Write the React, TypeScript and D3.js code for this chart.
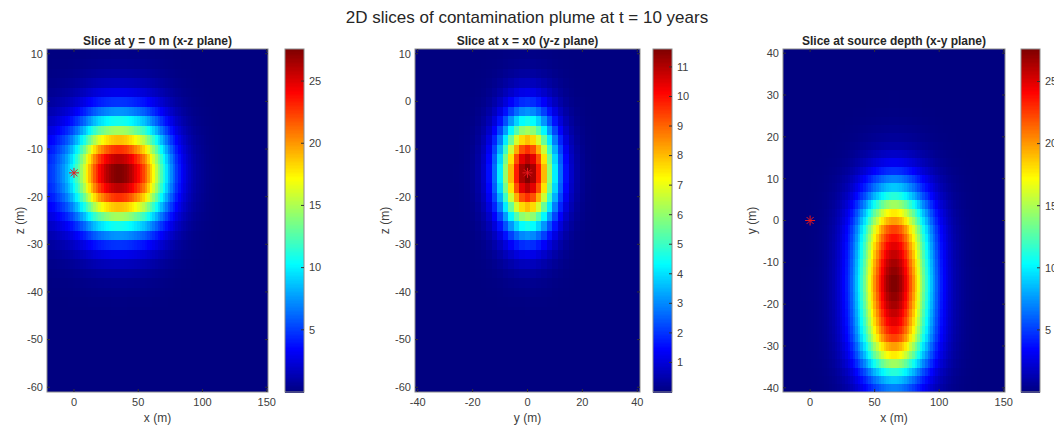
import * as d3 from "d3";

const W = 1054;
const H = 427;
const FONT = "'Liberation Sans', Arial, Helvetica, sans-serif";

// grid coordinates (m)
const xGrid = d3.range(-20, 151, 2); // 86 columns
const yGrid = d3.range(-40, 41, 2); // 41
const zGrid = d3.range(-60, 11, 2); // 36

// x-z slice (y = 0): profile along x, x = -20 ... 150
const xzAlongX = [
  0.17, 0.18, 0.19, 0.21, 0.23, 0.25, 0.27, 0.3, 0.33, 0.36,
  0.4, 0.44, 0.48, 0.53, 0.58, 0.64, 0.69, 0.74, 0.79, 0.83,
  0.87, 0.9, 0.93, 0.95, 0.97, 0.985, 0.995, 1.0,
  1.0, 0.995, 0.985, 0.97, 0.95, 0.93, 0.9, 0.87, 0.84, 0.81,
  0.77, 0.72, 0.67, 0.62, 0.56, 0.5, 0.45, 0.4, 0.35, 0.3,
  0.26, 0.22, 0.18, 0.15, 0.12, 0.1, 0.08, 0.065, 0.05, 0.04,
  0.03, 0.025, 0.02, 0.015, 0.011, 0.008, 0.006, 0.004, 0.003, 0.002,
  0.001, 0, 0, 0, 0, 0, 0, 0, 0, 0,
  0, 0, 0, 0, 0, 0, 0, 0,
];

// depth profile through the source, z = -60 ... 10
const alongZ = [
  0, 0, 0, 0, 0, 0, 0, 0, 0.001, 0.003,
  0.008, 0.016, 0.032, 0.06, 0.105, 0.172, 0.267, 0.389, 0.531, 0.682,
  0.823, 0.932, 0.992, 0.992, 0.932, 0.823, 0.682, 0.531, 0.389, 0.267,
  0.172, 0.105, 0.06, 0.032, 0.016, 0.008,
];

// y-z slice (x = x0): profile along y, y = -40 ... 40
const yzAlongY = [
  0, 0, 0, 0, 0, 0, 0, 0.001, 0.003, 0.007,
  0.017, 0.037, 0.073, 0.135, 0.23, 0.36, 0.52, 0.693, 0.849, 0.96,
  1.0,
  0.96, 0.849, 0.693, 0.52, 0.36, 0.23, 0.135, 0.073, 0.037, 0.017,
  0.007, 0.003, 0.001, 0, 0, 0, 0, 0, 0, 0,
];

// x-y slice (source depth): profile along x, x = -20 ... 150
const xyAlongX = [
  0, 0, 0, 0, 0, 0, 0, 0.001, 0.001, 0.002,
  0.003, 0.004, 0.006, 0.008, 0.011, 0.015, 0.02, 0.027, 0.036, 0.047,
  0.061, 0.077, 0.097, 0.122, 0.15, 0.183, 0.221, 0.264, 0.312, 0.364,
  0.421, 0.481, 0.543, 0.607, 0.67, 0.732, 0.791, 0.846, 0.894, 0.934,
  0.966, 0.988, 0.999,
  0.999, 0.988, 0.966, 0.934, 0.894, 0.846, 0.791, 0.732, 0.67, 0.607,
  0.543, 0.481, 0.421, 0.364, 0.312, 0.264, 0.221, 0.183, 0.15, 0.122,
  0.097, 0.077, 0.061, 0.047, 0.036, 0.027, 0.02, 0.015, 0.011, 0.008,
  0.006, 0.004, 0.003, 0.002, 0.001, 0.001,
  0, 0, 0, 0, 0, 0, 0,
];

// x-y slice: profile along y, y = -40 ... 40
const xyAlongY = [
  0.25, 0.32, 0.41, 0.53, 0.64, 0.72, 0.81, 0.86, 0.9, 0.93,
  0.96, 0.98, 0.998, 0.998, 0.98, 0.96, 0.93, 0.9, 0.86, 0.81,
  0.72, 0.64, 0.53, 0.41, 0.32, 0.25, 0.17, 0.11, 0.07, 0.04,
  0.025, 0.015, 0.008, 0.004, 0.002, 0.001, 0, 0, 0, 0, 0,
];

// peak concentrations
const xzPeak = 27.8;
const yzPeak = 11.7;
const xyPeak = 27.7;

const zTicks = [10, 0, -10, -20, -30, -40, -50, -60];
const xTicks = [0, 50, 100, 150];
const yTicksH = [-40, -20, 0, 20, 40];
const yTicksV = [40, 30, 20, 10, 0, -10, -20, -30, -40];
const cbTicksBig = [5, 10, 15, 20, 25];
const cbTicksSmall = [1, 2, 3, 4, 5, 6, 7, 8, 9, 10, 11];

const jet = (t: number) => {
  const c = (v: number) => Math.max(0, Math.min(1, v));
  return d3
    .rgb(
      255 * c(1.5 - Math.abs(4 * t - 3)),
      255 * c(1.5 - Math.abs(4 * t - 2)),
      255 * c(1.5 - Math.abs(4 * t - 1))
    )
    .toString();
};

type PanelProps = {
  id: string;
  title: string;
  left: number;
  right: number;
  cbLeft: number;
  xDomain: [number, number];
  yDomain: [number, number];
  cols: number[];
  rows: number[];
  colProf: number[];
  rowProf: number[];
  peak: number;
  xTicks: number[];
  yTicks: number[];
  cbTicks: number[];
  xLabel: string;
  yLabel: string;
  yLabelX: number;
  star: [number, number];
};

const TOP = 49;
const BOTTOM = 392;
const TEXT = "#404040";

const Panel = (p: PanelProps) => {
  const xs = d3.scaleLinear().domain(p.xDomain).range([p.left, p.right]);
  const ys = d3.scaleLinear().domain(p.yDomain).range([BOTTOM, TOP]);
  const dx = p.cols[1] - p.cols[0];
  const dy = p.rows[1] - p.rows[0];

  const cells: { x: number; y: number; v: number }[] = [];
  p.rows.forEach((r, j) => {
    p.cols.forEach((c, i) => {
      cells.push({ x: c, y: r, v: p.peak * p.colProf[i] * p.rowProf[j] });
    });
  });
  const [vmin, vmax] = d3.extent(cells, (d) => d.v) as [number, number];
  const norm = d3.scaleLinear().domain([vmin, vmax]).range([0, 1]).clamp(true);

  const cbW = 19;
  const cbScale = d3.scaleLinear().domain([vmin, vmax]).range([BOTTOM, TOP]);
  const levels = d3.range(256);
  const lh = (BOTTOM - TOP) / 256;

  const cx = (p.left + p.right) / 2;
  const [sx, sy] = [xs(p.star[0]), ys(p.star[1])];
  const s = 5;

  return (
    <g>
      <clipPath id={`clip-${p.id}`}>
        <rect x={p.left} y={TOP} width={p.right - p.left} height={BOTTOM - TOP} />
      </clipPath>
      <g clipPath={`url(#clip-${p.id})`} shapeRendering="crispEdges">
        {cells.map((d, k) => {
          const x0 = xs(d.x - dx / 2);
          const x1 = xs(d.x + dx / 2);
          const y0 = ys(d.y + dy / 2);
          const y1 = ys(d.y - dy / 2);
          return (
            <rect
              key={k}
              x={x0}
              y={y0}
              width={x1 - x0 + 0.6}
              height={y1 - y0 + 0.6}
              fill={jet(norm(d.v))}
            />
          );
        })}
      </g>
      {/* source marker */}
      <g stroke="#e8161c" strokeWidth={1}>
        <line x1={sx - s} x2={sx + s} y1={sy} y2={sy} />
        <line x1={sx} x2={sx} y1={sy - s} y2={sy + s} />
        <line x1={sx - s * 0.7} x2={sx + s * 0.7} y1={sy - s * 0.7} y2={sy + s * 0.7} />
        <line x1={sx - s * 0.7} x2={sx + s * 0.7} y1={sy + s * 0.7} y2={sy - s * 0.7} />
      </g>
      <rect
        x={p.left}
        y={TOP}
        width={p.right - p.left}
        height={BOTTOM - TOP}
        fill="none"
        stroke="#8c8c8c"
        strokeWidth={1}
      />
      {/* ticks */}
      {p.xTicks.map((t) => (
        <g key={`xt${t}`}>
          <line x1={xs(t)} x2={xs(t)} y1={BOTTOM} y2={BOTTOM - 3} stroke="#333" />
          <line x1={xs(t)} x2={xs(t)} y1={TOP} y2={TOP + 3} stroke="#333" />
          <text
            x={xs(t)}
            y={406}
            textAnchor="middle"
            fontSize={11}
            fill={TEXT}
            fontFamily={FONT}
          >
            {t}
          </text>
        </g>
      ))}
      {p.yTicks.map((t) => (
        <g key={`yt${t}`}>
          <line x1={p.left} x2={p.left + 3} y1={ys(t)} y2={ys(t)} stroke="#333" />
          <line x1={p.right} x2={p.right - 3} y1={ys(t)} y2={ys(t)} stroke="#333" />
          <text
            x={p.left - 4}
            y={ys(t)}
            dy="0.35em"
            textAnchor="end"
            fontSize={11}
            fill={TEXT}
            fontFamily={FONT}
          >
            {t}
          </text>
        </g>
      ))}
      <text
        x={cx}
        y={45}
        textAnchor="middle"
        fontSize={12}
        fontWeight="bold"
        fill="#262626"
        fontFamily={FONT}
      >
        {p.title}
      </text>
      <text x={cx} y={422} textAnchor="middle" fontSize={12} fill={TEXT} fontFamily={FONT}>
        {p.xLabel}
      </text>
      <text
        transform={`translate(${p.yLabelX},${(TOP + BOTTOM) / 2}) rotate(-90)`}
        textAnchor="middle"
        fontSize={12}
        fill={TEXT}
        fontFamily={FONT}
      >
        {p.yLabel}
      </text>
      {/* colorbar */}
      <g shapeRendering="crispEdges">
        {levels.map((l) => (
          <rect
            key={l}
            x={p.cbLeft}
            y={BOTTOM - (l + 1) * lh}
            width={cbW}
            height={lh + 0.6}
            fill={jet((l + 0.5) / 256)}
          />
        ))}
      </g>
      <rect
        x={p.cbLeft}
        y={TOP}
        width={cbW}
        height={BOTTOM - TOP}
        fill="none"
        stroke="#8c8c8c"
      />
      {p.cbTicks.map((t) => (
        <g key={`ct${t}`}>
          <line
            x1={p.cbLeft + cbW}
            x2={p.cbLeft + cbW - 3}
            y1={cbScale(t)}
            y2={cbScale(t)}
            stroke="#333"
          />
          <text
            x={p.cbLeft + cbW + 5}
            y={cbScale(t)}
            dy="0.35em"
            fontSize={11}
            fill={TEXT}
            fontFamily={FONT}
          >
            {t}
          </text>
        </g>
      ))}
    </g>
  );
};

export default function App() {
  return (
    <div style={{ position: "absolute", left: 0, top: 0 }}>
      <svg width={W} height={H} style={{ display: "block", background: "#fff" }}>
        <text
          x={527}
          y={23}
          textAnchor="middle"
          fontSize={17}
          fill="#262626"
          fontFamily={FONT}
        >
          2D slices of contamination plume at t = 10 years
        </text>
        <Panel
          id="xz"
          title="Slice at y = 0 m (x-z plane)"
          left={47}
          right={268}
          cbLeft={285}
          xDomain={[-21, 151]}
          yDomain={[-61, 11]}
          cols={xGrid}
          rows={zGrid}
          colProf={xzAlongX}
          rowProf={alongZ}
          peak={xzPeak}
          xTicks={xTicks}
          yTicks={zTicks}
          cbTicks={cbTicksBig}
          xLabel="x (m)"
          yLabel="z (m)"
          yLabelX={24}
          star={[0, -15]}
        />
        <Panel
          id="yz"
          title="Slice at x = x0 (y-z plane)"
          left={415}
          right={640}
          cbLeft={653}
          xDomain={[-41, 41]}
          yDomain={[-61, 11]}
          cols={yGrid}
          rows={zGrid}
          colProf={yzAlongY}
          rowProf={alongZ}
          peak={yzPeak}
          xTicks={yTicksH}
          yTicks={zTicks}
          cbTicks={cbTicksSmall}
          xLabel="y (m)"
          yLabel="z (m)"
          yLabelX={389}
          star={[0, -15]}
        />
        <Panel
          id="xy"
          title="Slice at source depth (x-y plane)"
          left={783}
          right={1005}
          cbLeft={1021}
          xDomain={[-21, 151]}
          yDomain={[-41, 41]}
          cols={xGrid}
          rows={yGrid}
          colProf={xyAlongX}
          rowProf={xyAlongY}
          peak={xyPeak}
          xTicks={xTicks}
          yTicks={yTicksV}
          cbTicks={cbTicksBig}
          xLabel="x (m)"
          yLabel="y (m)"
          yLabelX={756}
          star={[0, 0]}
        />
      </svg>
    </div>
  );
}
